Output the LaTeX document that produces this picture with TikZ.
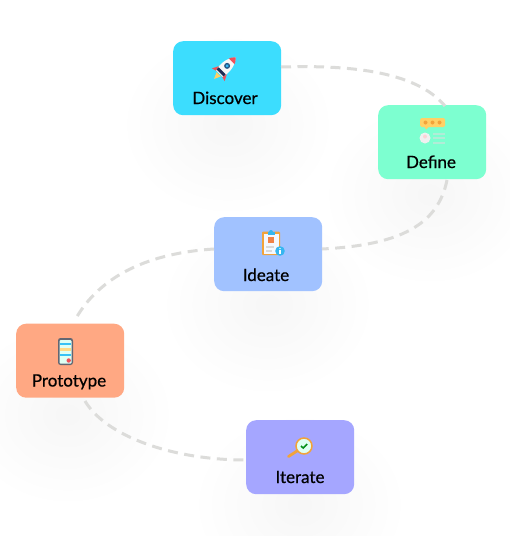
\documentclass[tikz,border=0pt]{standalone}
\usepackage{fontspec}
\setmainfont{Lato}
\newfontfamily\cardfont[FakeBold=0.6]{Lato}
\definecolor{cdisc}{HTML}{3CDDFE}
\definecolor{cdef}{HTML}{7DFFD0}
\definecolor{cide}{HTML}{A1C2FF}
\definecolor{cpro}{HTML}{FFA883}
\definecolor{cite}{HTML}{A5A6FF}
\definecolor{clink}{HTML}{DCDCDA}
\definecolor{corange}{HTML}{F2A33A}
\definecolor{cyel}{HTML}{FFD166}
\definecolor{cred}{HTML}{F0505A}
\definecolor{cblue}{HTML}{35B6F0}
\definecolor{cnavy}{HTML}{1F2D55}
\tikzset{
  x=1pt,y=-1pt,
  cardbox/.style={rounded corners=10pt,minimum width=108pt,minimum height=74pt,inner sep=0pt,anchor=north west,fill=#1,draw=none},
  cardlabel/.style={font=\fontsize{17}{20}\selectfont\cardfont,text=black,inner sep=0pt,anchor=base},
  linkline/.style={draw=clink,line width=3pt,dash pattern=on 10pt off 6.5pt},
}
\newcommand{\softshadow}[2]{%
  \foreach \r in {12,24,...,96}{
    \fill[black,fill opacity=0.004] (#1,#2) ellipse[x radius=\r*1.05pt,y radius=\r*0.9pt];
  }}
\begin{document}
\begin{tikzpicture}
\useasboundingbox (0,0) rectangle (510,536);
\fill[white] (0,0) rectangle (510,536);
\softshadow{228}{125}
\softshadow{430}{195}
\softshadow{268}{305}
\softshadow{68}{415}
\softshadow{300}{505}

\node[cardbox=cdisc] (discover) at (173,41) {};
\node[cardbox=cdef] (define) at (378,105) {};
\node[cardbox=cide] (ideate) at (214,217) {};
\node[cardbox=cpro] (prototype) at (16,323.5) {};
\node[cardbox=cite] (iterate) at (246,420) {};

\node[cardlabel] (ldiscover) at (225,104) {Discover};
\node[cardlabel] (ldefine) at (431,168) {Define};
\node[cardlabel] (lideate) at (266,281) {Ideate};
\node[cardlabel] (lprototype) at (69,386.5) {Prototype};
\node[cardlabel] (literate) at (300,483) {Iterate};

\coordinate (a1) at (281,67);
\coordinate (a2) at (445,106);
\coordinate (b1) at (447,180);
\coordinate (b2) at (322,249);
\coordinate (c1) at (214,249);
\coordinate (c2) at (75,320);
\coordinate (d1) at (85,401);
\coordinate (d2) at (246,460);
\draw[linkline] (a1) .. controls (345,65) and (415,70) .. (a2);
\draw[linkline] (b1) .. controls (438,225) and (400,245) .. (b2);
\draw[linkline] (c1) .. controls (150,253) and (100,275) .. (c2);
\draw[linkline] (d1) .. controls (105,435) and (170,460) .. (d2);

% rocket
\begin{scope}[shift={(225,68)},rotate=-45]
  \fill[cyel] (-3,9) -- (3,9) -- (0,15.5) -- cycle;
  \fill[cred] (-4.5,1) -- (-9,9.5) -- (-3.5,8) -- cycle;
  \fill[cred] (4.5,1) -- (9,9.5) -- (3.5,8) -- cycle;
  \fill[white!94!gray] (0,-15) .. controls (6.5,-8) and (6.5,2) .. (4.5,8) -- (-4.5,8) .. controls (-6.5,2) and (-6.5,-8) .. (0,-15) -- cycle;
  \fill[cred] (0,-15) .. controls (2.5,-12.5) and (3.5,-11) .. (4,-9.5) -- (-4,-9.5) .. controls (-3.5,-11) and (-2.5,-12.5) .. (0,-15) -- cycle;
  \fill[cnavy] (-5,4) rectangle (5,7);
  \fill[cnavy!70!cblue] (0,-3) circle (3);
  \fill[cblue] (0,-3) circle (1.6);
\end{scope}

% define icon
\begin{scope}[shift={(432.5,131)}]
  \fill[cyel,rounded corners=1.5pt] (-12.5,-13) rectangle (12.5,-4);
  \fill[cyel] (-8,-4) -- (-4,-4) -- (-6.5,-1.5) -- cycle;
  \foreach \sx in {-7,0,7} \fill[corange] (\sx,-8.5) circle (2);
  \fill[white!88!gray] (-7.5,7) circle (5.5);
  \fill[cred!25!white] (-7.5,5.5) circle (2);
  \fill[gray!25!cdef!60!white] (0.5,2) rectangle (12.5,4);
  \fill[gray!25!cdef!60!white] (0.5,6) rectangle (12.5,8);
  \fill[gray!25!cdef!60!white] (0.5,10.5) rectangle (12.5,12.5);
\end{scope}

% ideate icon
\begin{scope}[shift={(271,243)}]
  \fill[corange,rounded corners=1pt] (-9,-11.5) rectangle (9,12);
  \fill[white!88!cide] (-7.5,-9.5) rectangle (7.5,10.5);
  \fill[cblue] (-3.5,-11) rectangle (3.5,-8.5);
  \fill[cblue] (0,-11) circle (2);
  \fill[corange!60!cred] (-3,-6.5) rectangle (3,-0.5);
  \fill[gray!30] (-5,3) rectangle (3,5);
  \fill[gray!30] (-5,7) rectangle (1,9);
  \fill[cblue] (9,8) circle (4.8);
  \fill[white] (9,5.6) circle (0.8);
  \fill[white] (8.3,7.2) rectangle (9.7,11);
\end{scope}

% phone icon
\begin{scope}[shift={(65.5,351.5)}]
  \fill[gray!70!cnavy,rounded corners=2.5pt] (-7.5,-13.5) rectangle (7.5,13.5);
  \fill[white!75!cdef,rounded corners=1pt] (-6,-11.5) rectangle (6,12);
  \fill[cblue!70!cdisc] (-5.5,-8.5) rectangle (5.5,-6.5);
  \fill[cyel!80!white] (-5.5,-4) rectangle (5.5,-1);
  \fill[cblue!70!cdisc] (-5.5,2.5) rectangle (5.5,4.5);
  \fill[cred] (3.2,9) circle (2.2);
\end{scope}

% magnifier icon
\begin{scope}[shift={(304,446)}]
  \draw[corange,line width=2.8pt,line cap=round] (-7,5) -- (-15.5,10.5);
  \fill[white!75!cdef,draw=corange,line width=1.5pt] (0,0) circle (8);
  \draw[green!55!black!90!cblue,line width=1.6pt] (-3,0) -- (-0.8,2) -- (3.2,-2);
\end{scope}
\end{tikzpicture}
\end{document}
